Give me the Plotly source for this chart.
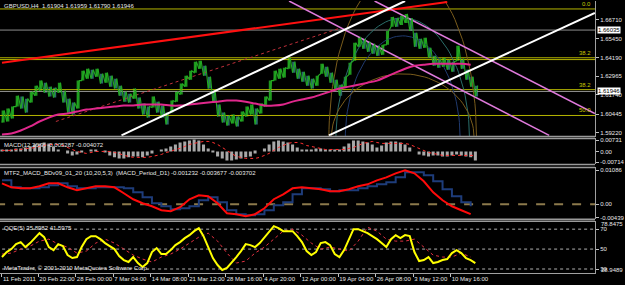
import math
import plotly.graph_objects as go

# ---------------- data ----------------
tick_bars = [0, 31, 63, 95, 127, 159, 191, 223, 255, 287, 319, 351, 383]
tick_text = ["11 Feb 2011", "20 Feb 22:00", "28 Feb 00:00", "7 Mar 04:00", "14 Mar 08:00",
             "21 Mar 12:00", "28 Mar 16:00", "4 Apr 20:00", "12 Apr 00:00", "19 Apr 04:00",
             "26 Apr 08:00", "3 May 12:00", "10 May 16:00"]

# price bars sampled every 4 H4 bars
price_high = [1.6068, 1.6081, 1.6094, 1.6167, 1.6161, 1.6147, 1.6194, 1.6233, 1.6267, 1.6253,
              1.6227, 1.6220, 1.6253, 1.6200, 1.6147, 1.6121, 1.6267, 1.6333, 1.6346, 1.6340,
              1.6346, 1.6313, 1.6320, 1.6300, 1.6280, 1.6233, 1.6194, 1.6180, 1.6214, 1.6154,
              1.6114, 1.6094, 1.6161, 1.6127, 1.6101, 1.6054, 1.6134, 1.6194, 1.6247, 1.6300,
              1.6333, 1.6393, 1.6399, 1.6366, 1.6293, 1.6200, 1.6108, 1.6054, 1.6035, 1.6041,
              1.6028, 1.6061, 1.6094, 1.6108, 1.6081, 1.6114, 1.6161, 1.6267, 1.6333, 1.6346,
              1.6353, 1.6419, 1.6393, 1.6346, 1.6326, 1.6300, 1.6280, 1.6300, 1.6379, 1.6359,
              1.6320, 1.6273, 1.6240, 1.6293, 1.6386, 1.6519, 1.6558, 1.6545, 1.6525, 1.6512,
              1.6499, 1.6505, 1.6598, 1.6691, 1.6684, 1.6698, 1.6711, 1.6684, 1.6585, 1.6545,
              1.6552, 1.6485, 1.6432, 1.6413, 1.6419, 1.6406, 1.6393, 1.6499, 1.6413, 1.6340,
              1.6293, 1.6233]
price_low = [1.5988, 1.5995, 1.6015, 1.6094, 1.6081, 1.6054, 1.6121, 1.6167, 1.6200, 1.6187,
             1.6161, 1.6154, 1.6187, 1.6121, 1.6054, 1.6041, 1.6081, 1.6267, 1.6280, 1.6280,
             1.6293, 1.6247, 1.6253, 1.6227, 1.6214, 1.6167, 1.6127, 1.6121, 1.6147, 1.6081,
             1.6041, 1.6021, 1.6088, 1.6054, 1.6021, 1.5975, 1.6054, 1.6127, 1.6174, 1.6227,
             1.6273, 1.6320, 1.6346, 1.6300, 1.6214, 1.6121, 1.6028, 1.5988, 1.5968, 1.5982,
             1.5962, 1.5995, 1.6028, 1.6041, 1.5975, 1.6048, 1.6094, 1.6134, 1.6267, 1.6280,
             1.6287, 1.6346, 1.6320, 1.6280, 1.6260, 1.6233, 1.6214, 1.6233, 1.6313, 1.6293,
             1.6253, 1.6207, 1.6167, 1.6220, 1.6306, 1.6399, 1.6492, 1.6479, 1.6459, 1.6446,
             1.6432, 1.6439, 1.6505, 1.6625, 1.6625, 1.6638, 1.6651, 1.6598, 1.6492, 1.6479,
             1.6485, 1.6419, 1.6366, 1.6353, 1.6359, 1.6340, 1.6326, 1.6399, 1.6346, 1.6273,
             1.6227, 1.6161]

# moving average, sampled every 8 bars
ma_values = [1.5909, 1.5915, 1.5935, 1.5962, 1.5995, 1.6021, 1.6041, 1.6048, 1.6061, 1.6074,
             1.6081, 1.6088, 1.6094, 1.6101, 1.6101, 1.6108, 1.6108, 1.6108, 1.6101, 1.6101,
             1.6108, 1.6114, 1.6121, 1.6127, 1.6134, 1.6134, 1.6127, 1.6114, 1.6101, 1.6101,
             1.6108, 1.6127, 1.6141, 1.6154, 1.6174, 1.6194, 1.6214, 1.6227, 1.6240, 1.6253,
             1.6267, 1.6293, 1.6320, 1.6346, 1.6366, 1.6373, 1.6379, 1.6379, 1.6379, 1.6379,
             1.6373]

# MACD(12,26,9) every 4 bars
macd_hist = [0.0013, 0.0007, 0.0013, 0.0020, 0.0020, 0.0026, 0.0033, 0.0046, 0.0053, 0.0059,
             0.0053, 0.0033, 0.0013, 0.0000, -0.0013, -0.0026, -0.0020, -0.0007, 0.0000, 0.0007,
             0.0007, 0.0000, -0.0007, -0.0026, -0.0039, -0.0046, -0.0046, -0.0039, -0.0033, -0.0033,
             -0.0039, -0.0026, -0.0013, 0.0000, 0.0013, 0.0020, 0.0033, 0.0046, 0.0059, 0.0066,
             0.0072, 0.0079, 0.0072, 0.0046, 0.0020, -0.0007, -0.0033, -0.0046, -0.0059, -0.0059,
             -0.0053, -0.0046, -0.0039, -0.0033, -0.0013, 0.0000, 0.0020, 0.0046, 0.0066, 0.0072,
             0.0066, 0.0059, 0.0046, 0.0026, 0.0013, 0.0007, 0.0013, 0.0020, 0.0020, 0.0013,
             0.0007, 0.0007, 0.0013, 0.0033, 0.0053, 0.0072, 0.0072, 0.0066, 0.0059, 0.0046,
             0.0026, 0.0039, 0.0059, 0.0066, 0.0066, 0.0059, 0.0046, 0.0026, 0.0000, -0.0020,
             -0.0026, -0.0033, -0.0026, -0.0026, -0.0033, -0.0033, -0.0026, -0.0020, -0.0026, -0.0033,
             -0.0039, -0.0059]
macd_signal = [0.0007, 0.0007, 0.0007, 0.0013, 0.0013, 0.0020, 0.0020, 0.0026, 0.0033, 0.0039,
               0.0046, 0.0046, 0.0046, 0.0039, 0.0026, 0.0013, 0.0000, -0.0007, -0.0013, -0.0007,
               0.0000, 0.0000, 0.0000, 0.0000, -0.0007, -0.0013, -0.0026, -0.0033, -0.0039, -0.0039,
               -0.0039, -0.0039, -0.0033, -0.0026, -0.0020, -0.0007, 0.0000, 0.0013, 0.0020, 0.0033,
               0.0046, 0.0053, 0.0059, 0.0066, 0.0066, 0.0059, 0.0046, 0.0026, 0.0007, -0.0013,
               -0.0033, -0.0039, -0.0046, -0.0046, -0.0046, -0.0039, -0.0026, -0.0013, 0.0007, 0.0026,
               0.0039, 0.0053, 0.0059, 0.0059, 0.0053, 0.0039, 0.0033, 0.0026, 0.0020, 0.0013,
               0.0013, 0.0013, 0.0013, 0.0013, 0.0020, 0.0026, 0.0039, 0.0053, 0.0059, 0.0066,
               0.0059, 0.0053, 0.0053, 0.0053, 0.0053, 0.0053, 0.0053, 0.0046, 0.0033, 0.0020,
               0.0007, -0.0007, -0.0013, -0.0020, -0.0026, -0.0026, -0.0026, -0.0026, -0.0026, -0.0026,
               -0.0026, -0.0026]

# MTF MACD (D1) every 8 bars
mtf_main = [0.0067, 0.00542, 0.0051, 0.0051, 0.00574, 0.0067, 0.0067, 0.00542, 0.00447, 0.0051,
            0.00574, 0.00574, 0.00542, 0.00351, 0.0016, 0.00032, -0.00064, -0.00191, -0.00223, -0.00096,
            0.0016, 0.00287, 0.00255, 0.00032, -0.00287, -0.00319, -0.00383, -0.00319, -0.00128, 0.0016,
            0.00319, 0.0051, 0.00542, 0.0051, 0.00479, 0.00415, 0.00415, 0.00479, 0.00574, 0.00638,
            0.00766, 0.00861, 0.00989, 0.01085, 0.00989, 0.00734, 0.00383, 0.00128, -0.00064, -0.00191,
            -0.00319]
mtf_signal = [0.00766, 0.00542, 0.0051, 0.0051, 0.00542, 0.00606, 0.0067, 0.00574, 0.0051, 0.0051,
              0.00542, 0.00542, 0.00542, 0.0051, 0.00383, 0.00223, 0.00032, -0.00064, -0.0016, -0.00128,
              -0.00064, 0.00128, 0.00223, 0.00064, -0.00191, -0.00319, -0.00351, -0.00319, -0.00191, -0.00032,
              0.00064, 0.00319, 0.0051, 0.0051, 0.00479, 0.00415, 0.00447, 0.00447, 0.0051, 0.00574,
              0.00638, 0.00702, 0.00861, 0.01021, 0.01021, 0.00925, 0.00734, 0.00479, 0.00255, 0.00064,
              -0.00064]

# QQE(5)
qqe_fast = [42, 47, 50, 55, 57, 52, 56, 61, 66, 62,
            52, 49, 55, 53, 44, 41, 42, 52, 60, 63,
            63, 60, 56, 53, 50, 43, 39, 37, 42, 36,
            32, 36, 47, 51, 45, 45, 49, 54, 57, 61,
            64, 68, 71, 63, 51, 41, 34, 29, 31, 36,
            42, 48, 55, 54, 52, 56, 62, 68, 73, 71,
            68, 68, 68, 63, 57, 48, 44, 47, 56, 57,
            54, 45, 42, 49, 59, 70, 70, 68, 66, 63,
            60, 56, 52, 60, 64, 61, 64, 63, 47, 38,
            39, 42, 36, 37, 39, 40, 46, 49, 46, 41,
            39, 36]
qqe_slow = [45, 46, 50, 53, 58, 60, 55, 52, 46, 48,
            56, 60, 56, 50, 44, 40, 37, 42, 45, 50,
            56, 62, 66, 58, 46, 36, 38, 46, 52, 60,
            68, 70, 64, 56, 50, 52, 50, 48, 58, 72,
            68, 60, 58, 58, 60, 52, 44, 42, 42, 46,
            42]

# horizontal levels (price)
fib_levels = [1.6744, 1.6419, 1.6407, 1.6207, 1.6035]
fib_labels = ["0.0", "38.2", "", "38.2", "50.0"]
grey_levels = [1.66035, 1.61946]

# trend lines: (bar, price) endpoints
red_line = ([0, 380], [1.6386, 1.6790])
red_dotted = ([46, 289], [1.5995, 1.6618])
white_1 = ([102, 344], [1.5902, 1.6797])
white_2 = ([279, 506], [1.5902, 1.6717])
pink_1 = ([245, 467], [1.6797, 1.5902])
pink_2 = ([318, 506], [1.6797, 1.6048])

# fib arcs: centre bar, centre price, x-radius (bars), y-radius (price), colour
arcs = [
    (342, 1.5882, 63, 0.1120, "#7A5C1C"),
    (342, 1.5882, 57, 0.0802, "#2A6E6A"),
    (342, 1.5882, 49, 0.0683, "#203A6E"),
    (342, 1.5882, 61, 0.0430, "#7A5C1C"),
]

main_ticks = [1.66710, 1.65450, 1.64190, 1.62965, 1.61740, 1.60445, 1.59220]

# ---------------- figure ----------------
FONT = "Liberation Sans"
fig = go.Figure()

SX = 4    # bars per sample
SX2 = 8

# horizontal lines
for lv in fib_levels:
    fig.add_trace(go.Scatter(x=[-5, 520], y=[lv, lv], mode="lines",
                             line=dict(color="#B4B400", width=1), yaxis="y", hoverinfo="skip"))
for lv in grey_levels:
    fig.add_trace(go.Scatter(x=[-5, 520], y=[lv, lv], mode="lines",
                             line=dict(color="#8C8C8C", width=1), yaxis="y", hoverinfo="skip"))

# arcs
for cb, cp, rx, ry, c in arcs:
    ax, ay = [], []
    for k in range(0, 181, 3):
        t = math.radians(k)
        ax.append(cb + rx * math.cos(t))
        ay.append(cp + ry * math.sin(t))
    fig.add_trace(go.Scatter(x=ax, y=ay, mode="lines", line=dict(color=c, width=1),
                             yaxis="y", hoverinfo="skip"))

# trend lines
fig.add_trace(go.Scatter(x=red_dotted[0], y=red_dotted[1], mode="lines",
                         line=dict(color="#C0303A", width=1, dash="dot"), yaxis="y"))
fig.add_trace(go.Scatter(x=red_line[0], y=red_line[1], mode="lines",
                         line=dict(color="#FF1010", width=2), yaxis="y"))
for ln in (pink_1, pink_2):
    fig.add_trace(go.Scatter(x=ln[0], y=ln[1], mode="lines",
                             line=dict(color="#E07ADC", width=1.5), yaxis="y"))

# price: zig-zag through each sample's low and high, plus range bars
zx, zy = [], []
for i, (h, l) in enumerate(zip(price_high, price_low)):
    zx += [SX * i, SX * i + 2]
    zy += [l, h]
cols = []
for i in range(len(price_high)):
    mid = (price_high[i] + price_low[i]) / 2
    pmid = (price_high[i - 1] + price_low[i - 1]) / 2 if i > 0 else mid
    cols.append("#1E961E" if mid >= pmid else "#2A6A6A")
fig.add_trace(go.Bar(x=[SX * i + 1 for i in range(len(price_high))],
                     y=[h - l for h, l in zip(price_high, price_low)], base=price_low,
                     width=2.6, marker=dict(color=cols, line=dict(width=0)), yaxis="y"))
fig.add_trace(go.Scatter(x=zx, y=zy, mode="lines", line=dict(color="#22A822", width=1.1),
                         yaxis="y", hoverinfo="skip"))

# MA
fig.add_trace(go.Scatter(x=[SX2 * i for i in range(len(ma_values))], y=ma_values, mode="lines",
                         line=dict(color="#E0288C", width=2, shape="spline"), yaxis="y"))
for ln in (white_1, white_2):
    fig.add_trace(go.Scatter(x=ln[0], y=ln[1], mode="lines",
                             line=dict(color="#FFFFFF", width=2), yaxis="y"))

# MACD panel
fig.add_trace(go.Bar(x=[SX * i for i in range(len(macd_hist))], y=macd_hist, width=2.6,
                     marker=dict(color="#A8A8A8", line=dict(width=0)), yaxis="y2"))
fig.add_trace(go.Scatter(x=[SX * i for i in range(len(macd_signal))], y=macd_signal, mode="lines",
                         line=dict(color="#FF3030", width=1, dash="dot"), yaxis="y2"))

# MTF panel
fig.add_trace(go.Scatter(x=[-5, 520], y=[0, 0], mode="lines",
                         line=dict(color="#8C7A4C", width=2, dash="dash"), yaxis="y3"))
fig.add_trace(go.Scatter(x=[SX2 * i for i in range(len(mtf_signal))], y=mtf_signal, mode="lines",
                         line=dict(color="#1E3C7A", width=2, shape="hv"), yaxis="y3"))
fig.add_trace(go.Scatter(x=[SX2 * i for i in range(len(mtf_main))], y=mtf_main, mode="lines",
                         line=dict(color="#FF0A0A", width=2), yaxis="y3"))

# QQE panel
for lv in (70, 50, 30):
    fig.add_trace(go.Scatter(x=[-5, 520], y=[lv, lv], mode="lines",
                             line=dict(color="#B0B0B0", width=1, dash="dot"), yaxis="y4"))
fig.add_trace(go.Scatter(x=[SX2 * i for i in range(len(qqe_slow))], y=qqe_slow, mode="lines",
                         line=dict(color="#E03040", width=1, dash="dot"), yaxis="y4"))
fig.add_trace(go.Scatter(x=[SX * i for i in range(len(qqe_fast))], y=qqe_fast, mode="lines",
                         line=dict(color="#FFFF00", width=2), yaxis="y4"))

# ---------------- layout ----------------
H_PLOT = 273.0
def dom(top_px, bot_px):
    return [(H_PLOT - bot_px) / H_PLOT, (H_PLOT - top_px) / H_PLOT]

tickfont = dict(family=FONT, size=6, color="#E8E8E8")
yax_common = dict(side="right", showgrid=False, zeroline=False, showline=True, linecolor="#A0A0A0",
                  linewidth=1, ticks="outside", ticklen=3, tickcolor="#C0C0C0", tickfont=tickfont,
                  anchor="x", fixedrange=True)

fig.update_layout(
    width=625, height=285,
    margin=dict(l=0, r=22, t=0, b=12),
    paper_bgcolor="#000000", plot_bgcolor="#000000",
    showlegend=False, barmode="overlay",
    xaxis=dict(range=[-1.684, 506.1], showgrid=False, zeroline=False, tickvals=tick_bars,
               ticktext=tick_text, ticks="outside", ticklen=3, tickcolor="#C0C0C0",
               tickfont=tickfont, tickangle=0, ticklabelposition="outside right", showline=True,
               linecolor="#A0A0A0", anchor="y4"),
    yaxis=dict(domain=dom(0, 136), range=[1.5895, 1.6797], tickvals=main_ticks,
               ticktext=["%.5f" % v for v in main_ticks], **yax_common),
    yaxis2=dict(domain=dom(138, 164), range=[-0.00854, 0.00854], tickvals=[0.00731, 0, -0.00714],
                ticktext=["0.00731", "0.00", "-0.00714"], **yax_common),
    yaxis3=dict(domain=dom(167, 219), range=[-0.00479, 0.0118], tickvals=[0.01086, 0, -0.00439],
                ticktext=["0.01086", "0.00", "-0.00439"], **yax_common),
    yaxis4=dict(domain=dom(221, 273), range=[26, 78], tickvals=[70, 50, 30],
                ticktext=["70", "50", "30"], **yax_common),
)

# panel separators
for py in (136, 138, 164, 167, 219, 221):
    fig.add_shape(type="line", xref="paper", yref="paper", x0=0, x1=1,
                  y0=(H_PLOT - py) / H_PLOT, y1=(H_PLOT - py) / H_PLOT,
                  line=dict(color="#9A9A9A", width=1.5))

ann_font = dict(family=FONT, size=6, color="#E8E8E8")
def label(text, py, x=0.004):
    fig.add_annotation(text=text, xref="paper", yref="paper", x=x, y=(H_PLOT - py) / H_PLOT,
                       xanchor="left", yanchor="middle", showarrow=False, font=ann_font)

label("GBPUSD,H4  1.61904 1.61959 1.61790 1.61946", 5)
label("MACD(12,26,9) -0.005287 -0.004072", 145)
label("MTF2_MACD_BDv09_01_20 (10,20,5,3)  (MACD_Period_D1) -0.001232 -0.003677 -0.003702", 173)
label("QQE(5) 35.8982 41.5975", 228)
label("MetaTrader, © 2001-2010 MetaQuotes Software Corp.", 268)

# fib level labels
for lv, t in zip(fib_levels, fib_labels):
    if t:
        fig.add_annotation(text=t, xref="paper", yref="y", x=0.997, y=lv, xanchor="right",
                           yanchor="bottom", showarrow=False,
                           font=dict(family=FONT, size=6, color="#C8C800"))

# highlighted price boxes on the right axis
for lv in grey_levels:
    fig.add_annotation(text="%.5f" % lv, xref="paper", yref="y", x=1.0, y=lv, xanchor="left",
                       yanchor="middle", xshift=2, showarrow=False, bgcolor="#FFFFFF",
                       borderpad=0, font=dict(family=FONT, size=6, color="#000000"))

# QQE extreme labels
for txt, py in (("78.8475", 224), ("28.9489", 270)):
    fig.add_annotation(text=txt, xref="paper", yref="paper", x=1.0, y=(H_PLOT - py) / H_PLOT,
                       xanchor="left", yanchor="middle", xshift=4, showarrow=False, font=ann_font)

fig.write_html("out.html")
